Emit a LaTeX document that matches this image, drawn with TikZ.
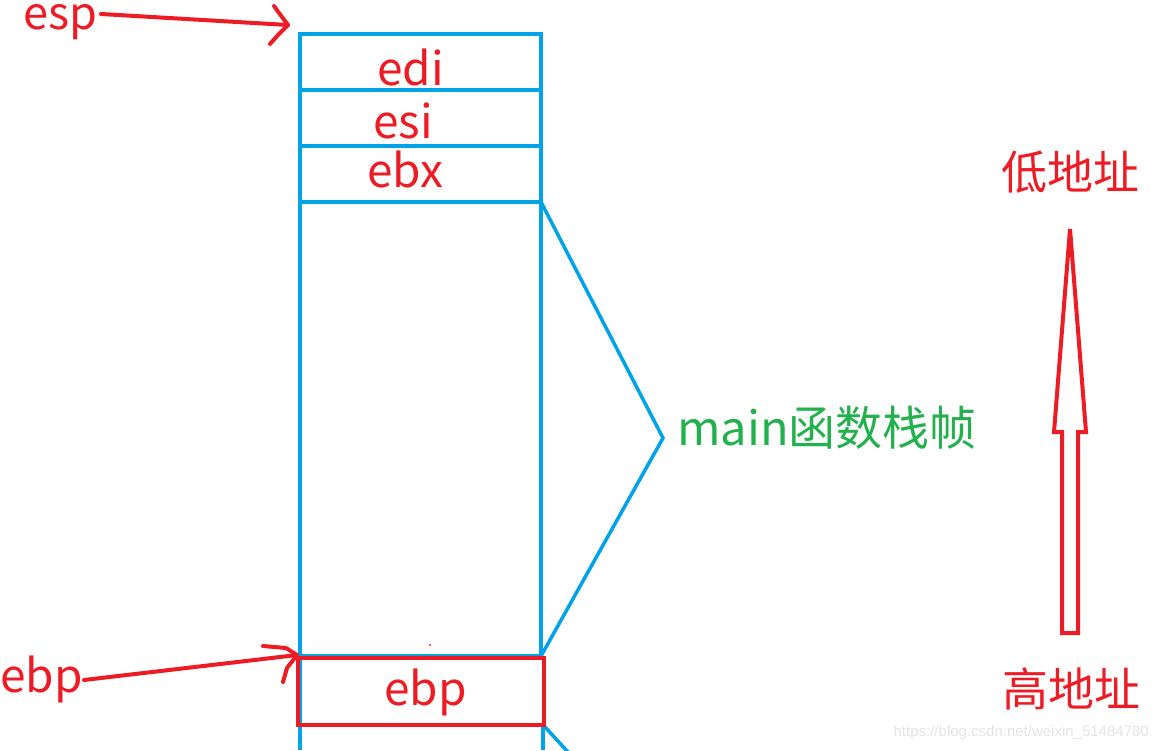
\documentclass[tikz,border=0pt]{standalone}
\usepackage{fontspec}
\setmainfont{Noto Sans CJK SC}
\newfontfamily\wmfont{Liberation Sans}
\definecolor{pred}{RGB}{237,28,36}
\definecolor{pblue}{RGB}{0,162,232}
\definecolor{pgreen}{RGB}{34,177,76}
\definecolor{wm}{RGB}{228,228,228}
\tikzset{
  lbl/.style={anchor=base west, inner sep=0pt, text=pred, font=\fontsize{46}{46}\selectfont},
  cjk/.style={anchor=base west, inner sep=0pt, text=pred, font=\fontsize{46}{46}\selectfont},
  bl/.style={draw=pblue, line width=4pt},
  rd/.style={draw=pred, line width=4pt, line cap=round, line join=round},
}
\begin{document}
\begin{tikzpicture}[x=1pt,y=-1pt]
\useasboundingbox (0,0) rectangle (1158,750);
% blue stack
\draw[bl] (300,750) -- (300,34) -- (541,34) -- (541,656);
\draw[bl] (300,90) -- (541,90);
\draw[bl] (300,146) -- (541,146);
\draw[bl] (300,202) -- (541,202);
\draw[bl] (300,656) -- (541,656);
\draw[bl] (543,725) -- (543,750);
\draw[draw=pblue, line width=3.5pt] (541,202) -- (663,438) -- (541,656);
\draw[draw=pblue, line width=3.5pt] (545,727) -- (568,752);
% red ebp box
\draw[draw=pred, line width=4pt] (298,658) rectangle (544,725);
\fill[pred] (430,645) circle (1.2pt);
% labels
\node[lbl, font=\fontsize{45}{45}\selectfont] (esp) at (23,29) {esp};
\node[lbl] (edi) at (377,85) {edi};
\node[lbl] (esi) at (373,138) {esi};
\node[lbl] (ebx) at (367,187) {ebx};
\node[lbl] (ebpl) at (0,692) {ebp};
\node[lbl] (ebpb) at (384,705) {ebp};
\node[anchor=base west, inner sep=0pt, text=pgreen, font=\fontsize{47}{47}\selectfont] (main) at (677,445) {main函数栈帧};
\node[cjk] (low) at (1001,189) {低地址};
\node[cjk] (high) at (1002,706) {高地址};
\node[anchor=base east, inner sep=0pt, text=wm, font=\wmfont\fontsize{15}{15}\selectfont] (wmk) at (1149,736) {https://blog.csdn.net/weixin\_51484780};
% esp arrow
\coordinate (esptip) at (288,25);
\draw[rd] (101,14) -- (esptip);
\draw[rd] (274,6) -- (279,13) -- (esptip) -- (278,35) -- (270,44);
% ebp arrow
\coordinate (ebptip) at (297,655);
\draw[rd] (84,680) -- (ebptip);
\draw[rd] (263,646) -- (286,648) -- (ebptip) -- (287,668) -- (283,682);
% hollow arrow
\draw[draw=pred, line width=4pt, line join=miter] (1062,633) -- (1062,432) -- (1054,432) -- (1070,229) -- (1086,432) -- (1078,432) -- (1078,633) -- cycle;
\end{tikzpicture}
\end{document}
